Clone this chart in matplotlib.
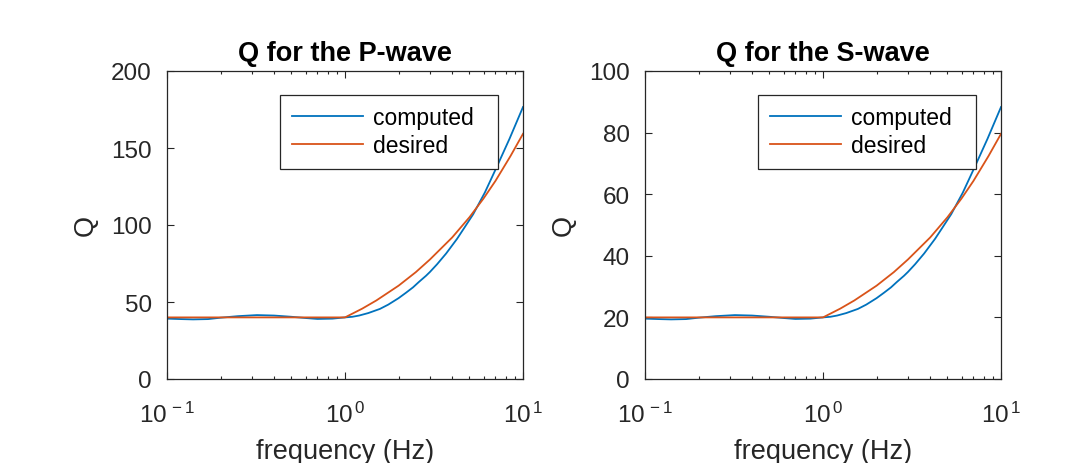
import numpy as np
import matplotlib
matplotlib.use('Agg')
import matplotlib.pyplot as plt
from matplotlib.ticker import FixedLocator, FuncFormatter, LogLocator, NullFormatter

plt.rcParams['font.family'] = ['Liberation Sans', 'DejaVu Sans']
plt.rcParams['mathtext.fontset'] = 'custom'
plt.rcParams['mathtext.rm'] = 'Liberation Sans'
plt.rcParams['mathtext.it'] = 'Liberation Sans'

# Values
freq_computed = [0.1, 0.12, 0.14, 0.17, 0.2, 0.25, 0.32, 0.4, 0.5, 0.6, 0.7, 0.85, 1.0,
                 1.1, 1.2, 1.35, 1.57, 1.75, 2.0, 2.2, 2.41, 2.6, 2.85, 3.0, 3.29, 3.7,
                 4.26, 4.7, 5.25, 6.1, 7.14, 8.4, 10.0]
q_p_computed = [39.2, 38.9, 38.7, 38.9, 39.8, 40.8, 41.5, 41.2, 40.4, 39.6, 39.0, 39.2, 40.0,
                40.4, 41.2, 42.8, 45.5, 48.3, 52.5, 56.0, 59.5, 63.0, 67.0, 69.5, 74.5, 81.5,
                91.0, 98.5, 107.0, 121.0, 138.0, 156.0, 176.6]
q_s_computed = [19.6, 19.45, 19.35, 19.45, 19.9, 20.4, 20.75, 20.6, 20.2, 19.8, 19.5, 19.6, 20.0,
                20.2, 20.6, 21.4, 22.75, 24.15, 26.25, 28.0, 29.75, 31.5, 33.5, 34.75, 37.25, 40.75,
                45.5, 49.25, 53.5, 60.5, 69.0, 78.0, 88.3]

freq_desired = [0.1, 1.0, 1.25, 1.5, 2.0, 2.5, 3.0, 4.0, 5.0, 6.0, 7.0, 8.5, 10.0]
q_p_desired = [40.0, 40.0, 45.7, 51.0, 60.6, 69.4, 77.6, 91.9, 105.0, 117.2, 128.6, 144.7, 159.2]
q_s_desired = [20.0, 20.0, 22.85, 25.5, 30.3, 34.7, 38.8, 45.95, 52.5, 58.6, 64.3, 72.35, 79.6]

x_ticks = [0.1, 1.0, 10.0]
x_tick_labels = [r'$\mathregular{10^{\,-1}}$', r'$\mathregular{10^{\,0}}$', r'$\mathregular{10^{\,1}}$']

panels = [
    ('Q for the P-wave', q_p_computed, q_p_desired, 200, [0, 50, 100, 150, 200]),
    ('Q for the S-wave', q_s_computed, q_s_desired, 100, [0, 20, 40, 60, 80, 100]),
]

blue = '#0072BD'
orange = '#D95319'
axcol = '#262626'

fig = plt.figure(figsize=(10.7, 4.64), dpi=100)
lefts = [167 / 1070, 645 / 1070]

for left, (title, qc, qd, ymax, yt) in zip(lefts, panels):
    ax = fig.add_axes([left, 84 / 464, 356 / 1070, 308 / 464])
    # trailing spaces give the wider right margin of the MATLAB legend box
    ax.plot(freq_computed, qc, color=blue, lw=1.3, label='computed  ')
    ax.plot(freq_desired, qd, color=orange, lw=1.3, label='desired  ')
    ax.set_xscale('log')
    ax.set_xlim(0.1, 10)
    ax.set_ylim(0, ymax)
    ax.xaxis.set_major_locator(FixedLocator(x_ticks))
    ax.xaxis.set_major_formatter(FuncFormatter(lambda v, p: x_tick_labels[x_ticks.index(v)] if v in x_ticks else ''))
    ax.xaxis.set_minor_locator(LogLocator(base=10, subs=np.arange(2, 10)))
    ax.xaxis.set_minor_formatter(NullFormatter())
    ax.set_yticks(yt)
    ax.tick_params(which='both', direction='in', top=True, right=True, colors=axcol,
                   labelcolor=axcol, labelsize=17.5, width=0.8)
    ax.tick_params(which='major', length=5)
    ax.tick_params(which='minor', length=2.5)
    ax.tick_params(axis='x', which='major', pad=16)
    ax.tick_params(axis='y', which='major', pad=11)
    for s in ax.spines.values():
        s.set_color(axcol)
        s.set_linewidth(0.9)
    ax.set_xlabel('frequency (Hz)', fontsize=19.5, color=axcol, labelpad=8.5)
    ax.set_ylabel('Q', fontsize=19.5, color=axcol, labelpad=9)
    ax.set_title(title, fontsize=19.5, fontweight='bold', color='black', pad=8)
    leg = ax.legend(loc='upper right', bbox_to_anchor=(0.93, 0.922), borderaxespad=0,
                    fancybox=False, framealpha=1, edgecolor=axcol, fontsize=16.5,
                    handlelength=3.1, handletextpad=0.45, borderpad=0.5, labelspacing=0.2)
    leg.get_frame().set_linewidth(0.9)

fig.savefig('out.png', dpi=100)
